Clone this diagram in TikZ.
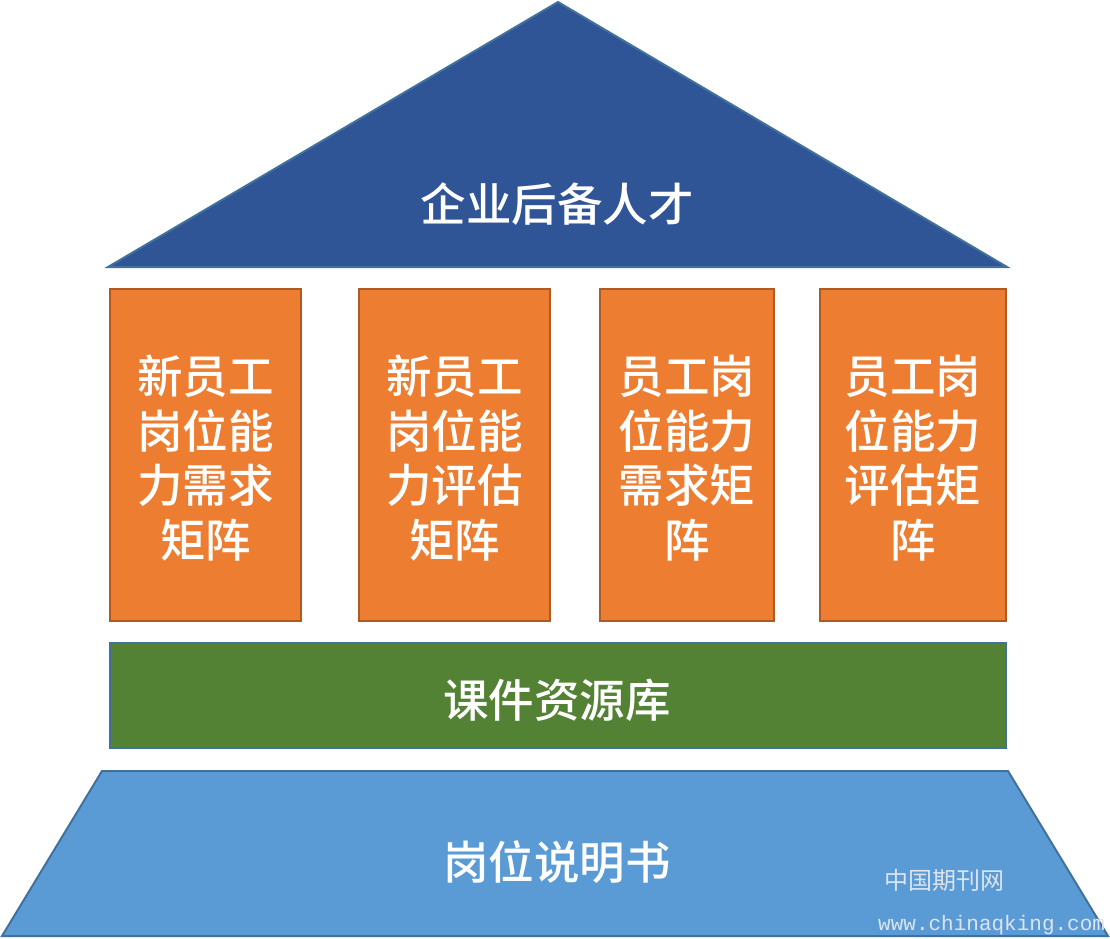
\documentclass[tikz,border=0pt]{standalone}
\usepackage{fontspec}
\newfontfamily\cjk{Noto Sans CJK SC Medium}
\newfontfamily\cjkreg{Noto Sans CJK SC}
\newfontfamily\wmmono{Liberation Mono}
\definecolor{roofblue}{HTML}{2F5597}
\definecolor{edgeblue}{HTML}{41719C}
\definecolor{pillarorange}{HTML}{ED7D31}
\definecolor{pillaredge}{HTML}{AE5A21}
\definecolor{basegreen}{HTML}{548235}
\definecolor{footblue}{HTML}{5B9BD5}
\definecolor{wmgray}{HTML}{DCE4EE}
\tikzset{
  shapeline/.style={line width=2pt, line join=miter},
  pillar/.style={shapeline, draw=pillaredge, fill=pillarorange},
  bigtext/.style={text=white, font={\cjk\fontsize{45.5}{54.5}\selectfont}, align=center, inner sep=0pt},
  wmtext/.style={text=wmgray, inner sep=0pt}
}
\begin{document}
\begin{tikzpicture}[x=1pt,y=-1pt]
\useasboundingbox (0,0) rectangle (1110,938);
% roof
\draw[shapeline, draw=edgeblue, fill=roofblue] (558,2) -- (1007,267) -- (108,267) -- cycle;
\node[bigtext] (roof) at (557,204) {企业后备人才};
% pillars
\draw[pillar] (110,289) rectangle (301,621);
\draw[pillar] (359,289) rectangle (550,621);
\draw[pillar] (600,289) rectangle (774,621);
\draw[pillar] (820,289) rectangle (1006,621);
\node[bigtext] (p1) at (205.5,458) {新员工\\岗位能\\力需求\\矩阵};
\node[bigtext] (p2) at (454.5,458) {新员工\\岗位能\\力评估\\矩阵};
\node[bigtext] (p3) at (687,458) {员工岗\\位能力\\需求矩\\阵};
\node[bigtext] (p4) at (913,458) {员工岗\\位能力\\评估矩\\阵};
% green base
\draw[shapeline, draw=edgeblue, fill=basegreen] (110,643) rectangle (1006,748);
\node[bigtext] (lib) at (557,700) {课件资源库};
% foundation trapezoid
\draw[shapeline, draw=edgeblue, fill=footblue] (102,771) -- (1008,771) -- (1108,936) -- (2,936) -- cycle;
\node[bigtext] (found) at (557,862) {岗位说明书};
% watermark
\node[wmtext, font={\cjkreg\fontsize{24}{24}\selectfont}] (wm1) at (944,880) {中国期刊网};
\node[wmtext, font={\wmmono\fontsize{21}{21}\selectfont}, anchor=west] (wm2) at (878,925) {www.chinaqking.com};
\end{tikzpicture}
\end{document}
